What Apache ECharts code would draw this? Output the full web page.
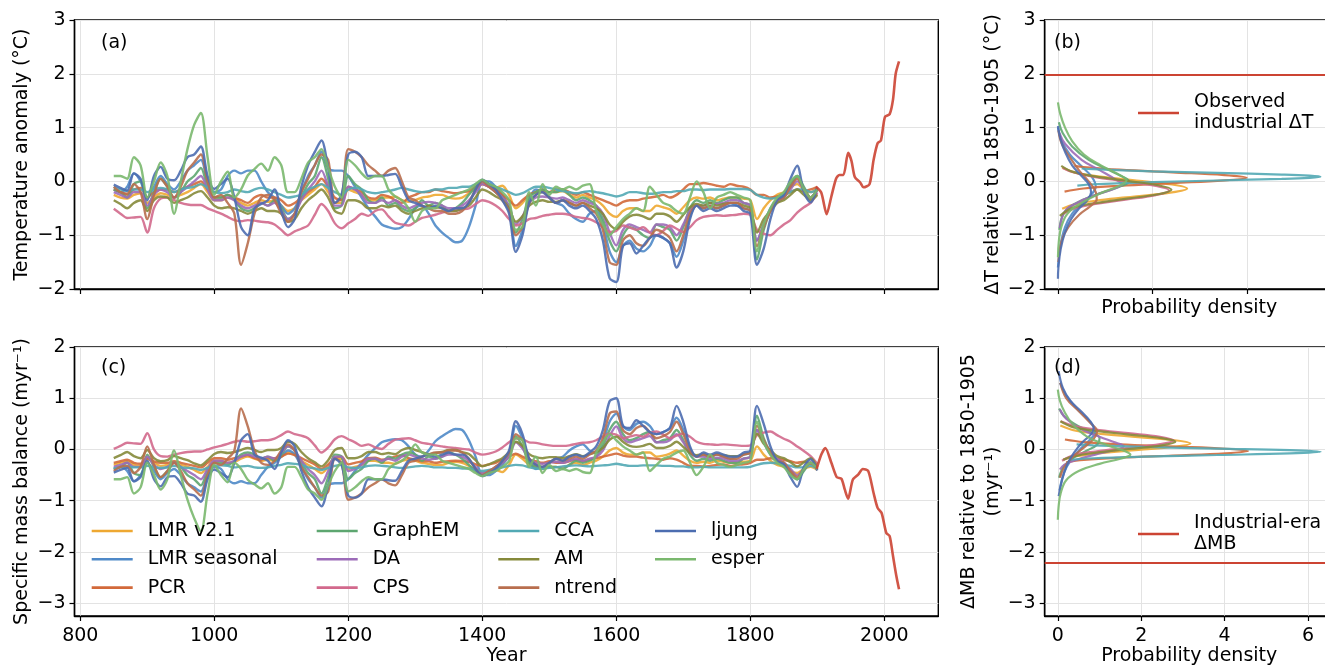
<!DOCTYPE html>
<html><head><meta charset="utf-8">
<script src="https://cdn.jsdelivr.net/npm/echarts@6/dist/echarts.min.js"></script>
<style>html,body{margin:0;padding:0;background:#fff}#c{width:1325px;height:666px}</style>
</head><body><div id="c"></div>
<script>
const YEARS = [850,860,870,880,890,900,910,920,930,940,
950,960,970,980,990,1000,1010,1020,1030,1040,
1050,1060,1070,1080,1090,1100,1110,1120,1130,1140,
1150,1160,1170,1180,1190,1200,1210,1220,1230,1240,
1250,1260,1270,1280,1290,1300,1310,1320,1330,1340,
1350,1360,1370,1380,1390,1400,1410,1420,1430,1440,
1450,1460,1470,1480,1490,1500,1510,1520,1530,1540,
1550,1560,1570,1580,1590,1600,1610,1620,1630,1640,
1650,1660,1670,1680,1690,1700,1710,1720,1730,1740,
1750,1760,1770,1780,1790,1800,1810,1820,1830,1840,
1850,1860,1870,1880,1890,1900];

const METHODS = ['LMR v2.1','LMR seasonal','PCR','GraphEM','DA','CPS','CCA','AM','ntrend','ljung','esper'];
const COLORS  = ['#EEA832','#4F89C8','#D2693A','#5DA670','#9C6BB8','#D2698C','#52A9B4','#85893A','#B86E4E','#4C6DB0','#7AB86E'];
const OBS_COLOR = '#CC4433';

// ---------- Panel (a): temperature anomaly ----------
const lmr21T = [-0.25,-0.30,-0.32,-0.25,-0.22,-0.40,-0.30,-0.22,-0.25,-0.30,
 -0.25,-0.20,-0.12,-0.05,-0.20,-0.35,-0.35,-0.30,-0.32,-0.40,
 -0.45,-0.40,-0.35,-0.38,-0.35,-0.45,-0.55,-0.50,-0.35,-0.25,
 -0.15,-0.05,-0.20,-0.40,-0.40,-0.15,-0.20,-0.25,-0.35,-0.35,
 -0.30,-0.30,-0.28,-0.35,-0.38,-0.35,-0.30,-0.28,-0.25,-0.25,
 -0.30,-0.32,-0.30,-0.22,-0.12,-0.05,-0.10,-0.12,-0.08,-0.25,
 -0.50,-0.40,-0.25,-0.20,-0.18,-0.20,-0.20,-0.18,-0.25,-0.30,
 -0.25,-0.30,-0.35,-0.45,-0.60,-0.66,-0.55,-0.50,-0.50,-0.55,
 -0.55,-0.45,-0.48,-0.52,-0.60,-0.48,-0.35,-0.30,-0.32,-0.30,
 -0.35,-0.32,-0.30,-0.30,-0.32,-0.35,-0.70,-0.50,-0.35,-0.25,
 -0.20,-0.10,-0.05,-0.15,-0.20,-0.12];
const seasT = [-0.15,-0.20,-0.10,0.15,0.00,-0.30,-0.10,0.10,-0.05,-0.15,
 0.00,0.20,0.30,0.40,0.00,-0.20,-0.15,0.10,0.20,0.15,
 0.20,0.20,0.00,-0.20,-0.30,-0.45,-0.60,-0.50,-0.20,0.10,
 0.30,0.55,0.25,0.20,0.20,0.10,-0.10,-0.30,-0.50,-0.65,
 -0.80,-0.85,-0.88,-0.85,-0.70,-0.50,-0.45,-0.60,-0.82,-0.95,
 -1.05,-1.13,-1.10,-0.85,-0.45,0.00,0.00,-0.10,-0.25,-0.50,
 -1.20,-0.90,-0.35,-0.15,-0.20,-0.30,-0.40,-0.45,-0.60,-0.70,
 -0.75,-0.60,-0.55,-0.80,-1.30,-1.50,-1.20,-1.10,-1.25,-1.30,
 -1.20,-1.00,-1.05,-1.15,-1.40,-1.10,-0.65,-0.45,-0.50,-0.45,
 -0.50,-0.45,-0.40,-0.45,-0.50,-0.55,-1.10,-0.80,-0.50,-0.35,
 -0.30,-0.10,0.10,-0.15,-0.30,-0.15];
const pcrT = [-0.15,-0.20,-0.25,-0.15,-0.12,-0.30,-0.20,-0.15,-0.15,-0.20,
 -0.15,-0.10,-0.05,0.00,-0.15,-0.30,-0.30,-0.25,-0.30,-0.35,
 -0.40,-0.30,-0.25,-0.30,-0.30,-0.35,-0.45,-0.40,-0.30,-0.20,
 -0.10,0.05,-0.10,-0.30,-0.35,-0.10,-0.15,-0.20,-0.30,-0.32,
 -0.25,-0.28,-0.35,-0.40,-0.30,-0.25,-0.20,-0.20,-0.15,-0.18,
 -0.20,-0.22,-0.20,-0.18,-0.10,-0.05,-0.10,-0.15,-0.25,-0.35,
 -0.45,-0.35,-0.25,-0.20,-0.15,-0.20,-0.15,-0.15,-0.20,-0.25,
 -0.20,-0.25,-0.30,-0.35,-0.40,-0.45,-0.38,-0.35,-0.35,-0.32,
 -0.30,-0.28,-0.25,-0.30,-0.25,-0.15,-0.05,-0.05,-0.03,-0.05,
 -0.08,-0.10,-0.05,-0.08,-0.10,-0.15,-0.25,-0.25,-0.30,-0.28,
 -0.25,-0.20,-0.15,-0.18,-0.15,-0.10];
const gemT = [-0.15,-0.20,-0.30,-0.05,0.00,-0.50,-0.20,0.05,-0.10,-0.30,
 -0.20,0.00,0.10,0.25,-0.10,-0.30,-0.30,-0.25,-0.35,-0.50,
 -0.55,-0.50,-0.40,-0.45,-0.35,-0.50,-0.70,-0.60,-0.30,-0.05,
 0.10,0.45,0.05,-0.50,-0.45,0.10,-0.05,-0.15,-0.35,-0.40,
 -0.30,-0.45,-0.40,-0.50,-0.55,-0.50,-0.35,-0.45,-0.40,-0.45,
 -0.55,-0.50,-0.40,-0.25,-0.10,0.00,-0.05,-0.20,-0.30,-0.50,
 -0.95,-0.70,-0.30,-0.20,-0.15,-0.20,-0.20,-0.15,-0.25,-0.35,
 -0.30,-0.35,-0.45,-0.70,-1.10,-1.30,-1.00,-0.85,-0.90,-1.00,
 -1.05,-0.80,-0.85,-0.90,-1.10,-0.85,-0.50,-0.35,-0.40,-0.35,
 -0.40,-0.35,-0.30,-0.30,-0.40,-0.45,-1.45,-0.90,-0.55,-0.35,
 -0.25,-0.05,0.10,-0.10,-0.30,-0.15];
const daT = [-0.20,-0.25,-0.30,-0.20,-0.20,-0.45,-0.25,-0.15,-0.20,-0.30,
 -0.20,-0.10,0.00,0.10,-0.15,-0.35,-0.35,-0.30,-0.35,-0.45,
 -0.50,-0.45,-0.40,-0.45,-0.40,-0.55,-0.70,-0.60,-0.35,-0.15,
 0.00,0.20,-0.10,-0.45,-0.45,-0.10,-0.15,-0.25,-0.40,-0.40,
 -0.35,-0.40,-0.35,-0.45,-0.50,-0.45,-0.40,-0.38,-0.40,-0.45,
 -0.50,-0.50,-0.45,-0.35,-0.20,-0.05,-0.10,-0.20,-0.30,-0.45,
 -0.80,-0.65,-0.40,-0.30,-0.28,-0.30,-0.32,-0.30,-0.35,-0.40,
 -0.35,-0.40,-0.45,-0.60,-0.95,-1.19,-0.90,-0.80,-0.85,-0.90,
 -0.95,-0.80,-0.80,-0.85,-1.00,-0.80,-0.55,-0.45,-0.45,-0.40,
 -0.42,-0.40,-0.35,-0.35,-0.40,-0.45,-1.10,-0.80,-0.55,-0.40,
 -0.30,-0.15,0.00,-0.15,-0.30,-0.20];
const cpsT = [-0.51,-0.60,-0.68,-0.67,-0.66,-0.95,-0.50,-0.32,-0.30,-0.35,
 -0.40,-0.43,-0.44,-0.44,-0.50,-0.55,-0.60,-0.66,-0.72,-0.74,
 -0.72,-0.73,-0.75,-0.76,-0.80,-0.90,-1.00,-0.93,-0.88,-0.82,
 -0.62,-0.42,-0.55,-0.78,-0.87,-0.78,-0.70,-0.60,-0.64,-0.55,
 -0.52,-0.65,-0.77,-0.80,-0.82,-0.75,-0.68,-0.65,-0.62,-0.58,
 -0.55,-0.54,-0.52,-0.50,-0.42,-0.35,-0.38,-0.45,-0.55,-0.70,
 -0.82,-0.78,-0.70,-0.68,-0.64,-0.62,-0.60,-0.60,-0.62,-0.66,
 -0.68,-0.70,-0.76,-0.85,-0.94,-0.92,-0.82,-0.86,-0.90,-0.85,
 -0.95,-1.00,-0.92,-0.82,-0.88,-0.94,-0.85,-0.72,-0.66,-0.64,
 -0.63,-0.64,-0.63,-0.62,-0.60,-0.62,-0.90,-0.97,-1.00,-0.90,
 -0.80,-0.72,-0.58,-0.48,-0.40,-0.22];
const ccaT = [-0.10,-0.15,-0.18,-0.15,-0.15,-0.20,-0.15,-0.12,-0.15,-0.20,
 -0.15,-0.12,-0.10,-0.05,-0.12,-0.20,-0.22,-0.20,-0.15,-0.18,
 -0.20,-0.15,-0.12,-0.15,-0.20,-0.25,-0.30,-0.28,-0.25,-0.15,
 -0.10,-0.05,-0.12,-0.20,-0.25,-0.15,-0.12,-0.15,-0.20,-0.22,
 -0.20,-0.18,-0.15,-0.12,-0.15,-0.18,-0.20,-0.18,-0.15,-0.15,
 -0.12,-0.12,-0.10,-0.10,-0.05,0.00,-0.05,-0.10,-0.15,-0.20,
 -0.25,-0.22,-0.15,-0.10,-0.10,-0.12,-0.15,-0.18,-0.20,-0.22,
 -0.20,-0.18,-0.20,-0.22,-0.25,-0.28,-0.25,-0.20,-0.20,-0.22,
 -0.23,-0.22,-0.20,-0.20,-0.18,-0.18,-0.15,-0.15,-0.16,-0.15,
 -0.15,-0.15,-0.14,-0.14,-0.14,-0.16,-0.25,-0.30,-0.32,-0.30,
 -0.25,-0.20,-0.15,-0.15,-0.20,-0.15];
const amT = [-0.35,-0.42,-0.50,-0.40,-0.35,-0.55,-0.35,-0.28,-0.30,-0.40,
 -0.35,-0.30,-0.22,-0.18,-0.30,-0.45,-0.50,-0.48,-0.50,-0.55,
 -0.60,-0.55,-0.50,-0.55,-0.55,-0.60,-0.75,-0.70,-0.50,-0.35,
 -0.25,-0.15,-0.30,-0.55,-0.60,-0.35,-0.35,-0.40,-0.50,-0.50,
 -0.45,-0.48,-0.45,-0.55,-0.60,-0.55,-0.50,-0.45,-0.48,-0.50,
 -0.55,-0.55,-0.50,-0.45,-0.30,-0.15,-0.20,-0.28,-0.35,-0.50,
 -0.75,-0.65,-0.45,-0.38,-0.35,-0.38,-0.38,-0.35,-0.40,-0.45,
 -0.40,-0.45,-0.50,-0.60,-0.80,-0.88,-0.75,-0.65,-0.62,-0.65,
 -0.70,-0.60,-0.60,-0.65,-0.75,-0.62,-0.48,-0.42,-0.45,-0.40,
 -0.45,-0.42,-0.40,-0.40,-0.45,-0.50,-0.95,-0.70,-0.55,-0.40,
 -0.35,-0.25,-0.15,-0.25,-0.35,-0.25];
const ntT = [-0.10,-0.20,-0.23,-0.05,-0.20,-0.70,-0.25,0.05,-0.10,-0.30,
 -0.10,0.20,0.35,0.50,0.00,-0.30,-0.25,-0.40,-0.60,-1.55,
 -1.15,-0.60,-0.30,-0.25,-0.35,-0.60,-0.75,-0.60,-0.20,0.05,
 0.30,0.50,0.40,-0.40,-0.30,0.60,0.55,0.45,0.30,0.20,
 0.10,0.20,0.25,0.00,-0.30,-0.35,-0.45,-0.50,-0.55,-0.55,
 -0.60,-0.60,-0.55,-0.40,-0.15,0.00,-0.10,-0.20,-0.35,-0.55,
 -1.00,-0.85,-0.40,-0.25,-0.20,-0.30,-0.40,-0.35,-0.40,-0.45,
 -0.40,-0.50,-0.60,-0.90,-1.50,-1.55,-1.10,-1.00,-1.15,-1.20,
 -1.05,-0.90,-0.95,-1.05,-1.30,-1.00,-0.60,-0.45,-0.50,-0.45,
 -0.50,-0.45,-0.40,-0.40,-0.50,-0.55,-1.20,-0.85,-0.55,-0.35,
 -0.30,-0.10,0.05,-0.15,-0.30,-0.15];
const ljT = [-0.06,-0.12,-0.17,0.15,0.05,-0.35,0.10,0.27,0.05,0.02,
 0.20,0.45,0.50,0.65,0.10,-0.14,-0.05,0.05,-0.30,-0.85,
 -1.00,-0.50,-0.42,-0.35,-0.15,-0.55,-0.85,-0.70,-0.10,0.30,
 0.55,0.76,0.25,-0.40,-0.25,0.50,0.55,0.45,0.10,0.10,
 0.10,0.12,0.14,-0.10,-0.35,-0.40,-0.45,-0.50,-0.45,-0.50,
 -0.55,-0.50,-0.50,-0.40,-0.15,0.03,-0.05,-0.15,-0.35,-0.60,
 -1.31,-1.00,-0.40,-0.25,-0.20,-0.30,-0.40,-0.35,-0.45,-0.50,
 -0.45,-0.55,-0.70,-1.10,-1.80,-1.87,-1.20,-1.15,-1.34,-1.20,
 -1.05,-1.00,-1.05,-1.15,-1.60,-1.30,-0.70,-0.45,-0.55,-0.50,
 -0.55,-0.50,-0.45,-0.45,-0.55,-0.60,-1.55,-1.25,-0.70,-0.35,
 -0.26,0.05,0.29,-0.20,-0.39,-0.11];
const espT = [0.10,0.10,0.05,0.45,0.30,-0.30,0.00,0.35,0.10,-0.60,
 0.00,0.60,1.05,1.27,0.45,-0.25,0.00,0.18,-0.30,-0.15,
 0.11,0.23,0.33,0.20,0.45,0.30,-0.20,-0.20,0.05,0.35,
 0.45,0.60,0.25,-0.10,-0.30,0.40,0.30,0.15,0.05,0.10,
 0.10,-0.15,-0.28,-0.35,-0.50,-0.75,-0.55,-0.50,-0.50,-0.35,
 -0.30,-0.25,-0.20,-0.15,-0.05,0.03,-0.05,-0.10,-0.20,-0.35,
 -0.90,-0.85,-0.20,-0.45,-0.05,-0.25,-0.10,-0.15,-0.10,-0.15,
 -0.08,-0.05,-0.55,-0.80,-1.00,-0.85,-0.70,-0.60,-0.50,-0.55,
 -0.10,-0.25,-0.40,-0.45,-0.55,-0.60,-0.30,0.00,-0.20,-0.50,
 -0.30,-0.25,-0.20,-0.25,-0.30,-0.35,-1.30,-0.80,-0.50,-0.30,
 -0.20,0.00,0.10,-0.15,-0.30,-0.15];

// ---------- Panel (c): specific mass balance ----------
const lmr21MB = [-0.30,-0.26,-0.24,-0.30,-0.32,-0.18,-0.26,-0.32,-0.30,-0.26,
 -0.30,-0.34,-0.40,-0.46,-0.34,-0.22,-0.22,-0.26,-0.24,-0.18,
 -0.14,-0.18,-0.22,-0.20,-0.22,-0.14,-0.06,-0.10,-0.22,-0.30,
 -0.38,-0.46,-0.34,-0.18,-0.18,-0.38,-0.34,-0.30,-0.22,-0.22,
 -0.26,-0.26,-0.28,-0.22,-0.20,-0.22,-0.26,-0.28,-0.30,-0.30,
 -0.26,-0.24,-0.26,-0.32,-0.40,-0.46,-0.42,-0.40,-0.44,-0.30,
 -0.10,-0.18,-0.30,-0.34,-0.36,-0.34,-0.34,-0.36,-0.30,-0.26,
 -0.30,-0.26,-0.22,-0.14,-0.02,0.03,-0.06,-0.10,-0.10,-0.06,
 -0.06,-0.14,-0.12,-0.08,-0.02,-0.12,-0.22,-0.26,-0.24,-0.26,
 -0.22,-0.24,-0.26,-0.26,-0.24,-0.22,0.06,-0.10,-0.22,-0.30,
 -0.34,-0.42,-0.46,-0.38,-0.34,-0.40];
const seasMB = [-0.38,-0.34,-0.42,-0.62,-0.50,-0.26,-0.42,-0.58,-0.46,-0.38,
 -0.50,-0.66,-0.74,-0.82,-0.50,-0.34,-0.38,-0.58,-0.66,-0.62,
 -0.66,-0.66,-0.50,-0.34,-0.26,-0.14,-0.02,-0.10,-0.34,-0.58,
 -0.74,-0.94,-0.70,-0.66,-0.66,-0.58,-0.42,-0.26,-0.10,0.02,
 0.14,0.18,0.20,0.18,0.06,-0.10,-0.14,-0.02,0.16,0.26,
 0.34,0.40,0.38,0.18,-0.14,-0.50,-0.50,-0.42,-0.30,-0.10,
 0.46,0.22,-0.22,-0.38,-0.34,-0.26,-0.18,-0.14,-0.02,0.06,
 0.10,-0.02,-0.06,0.14,0.54,0.70,0.46,0.38,0.50,0.54,
 0.46,0.30,0.34,0.42,0.62,0.38,0.02,-0.14,-0.10,-0.14,
 -0.10,-0.14,-0.18,-0.14,-0.10,-0.06,0.38,0.14,-0.10,-0.22,
 -0.26,-0.42,-0.58,-0.38,-0.26,-0.38];
const pcrMB = [-0.26,-0.23,-0.20,-0.26,-0.28,-0.17,-0.23,-0.26,-0.26,-0.23,
 -0.26,-0.29,-0.32,-0.35,-0.26,-0.17,-0.17,-0.20,-0.17,-0.14,
 -0.11,-0.17,-0.20,-0.17,-0.17,-0.14,-0.08,-0.11,-0.17,-0.23,
 -0.29,-0.38,-0.29,-0.17,-0.14,-0.29,-0.26,-0.23,-0.17,-0.16,
 -0.20,-0.18,-0.14,-0.11,-0.17,-0.20,-0.23,-0.23,-0.26,-0.24,
 -0.23,-0.22,-0.23,-0.24,-0.29,-0.32,-0.29,-0.26,-0.20,-0.14,
 -0.08,-0.14,-0.20,-0.23,-0.26,-0.23,-0.26,-0.26,-0.23,-0.20,
 -0.23,-0.20,-0.17,-0.14,-0.11,-0.08,-0.12,-0.14,-0.14,-0.16,
 -0.17,-0.18,-0.20,-0.17,-0.20,-0.26,-0.32,-0.32,-0.33,-0.32,
 -0.30,-0.29,-0.32,-0.30,-0.29,-0.26,-0.20,-0.20,-0.17,-0.18,
 -0.20,-0.23,-0.26,-0.24,-0.28,-0.35];
const gemMB = [-0.38,-0.34,-0.26,-0.46,-0.50,-0.10,-0.34,-0.54,-0.42,-0.26,
 -0.34,-0.50,-0.58,-0.70,-0.42,-0.26,-0.26,-0.30,-0.22,-0.10,
 -0.06,-0.10,-0.18,-0.14,-0.22,-0.10,0.06,-0.02,-0.26,-0.46,
 -0.58,-0.86,-0.54,-0.10,-0.14,-0.58,-0.46,-0.38,-0.22,-0.18,
 -0.26,-0.14,-0.18,-0.10,-0.06,-0.10,-0.22,-0.14,-0.18,-0.14,
 -0.06,-0.10,-0.18,-0.30,-0.42,-0.50,-0.46,-0.34,-0.26,-0.10,
 0.26,0.06,-0.26,-0.34,-0.38,-0.34,-0.34,-0.38,-0.30,-0.22,
 -0.26,-0.22,-0.14,0.06,0.38,0.54,0.30,0.18,0.22,0.30,
 0.34,0.14,0.18,0.22,0.38,0.18,-0.10,-0.22,-0.18,-0.22,
 -0.18,-0.22,-0.26,-0.26,-0.18,-0.14,0.66,0.22,-0.06,-0.22,
 -0.30,-0.46,-0.58,-0.42,-0.26,-0.38];
const daMB = [-0.34,-0.30,-0.26,-0.34,-0.34,-0.14,-0.30,-0.38,-0.34,-0.26,
 -0.34,-0.42,-0.50,-0.58,-0.38,-0.22,-0.22,-0.26,-0.22,-0.14,
 -0.10,-0.14,-0.18,-0.14,-0.18,-0.06,0.06,-0.02,-0.22,-0.38,
 -0.50,-0.66,-0.42,-0.14,-0.14,-0.42,-0.38,-0.30,-0.18,-0.18,
 -0.22,-0.18,-0.22,-0.14,-0.10,-0.14,-0.18,-0.20,-0.18,-0.14,
 -0.10,-0.10,-0.14,-0.22,-0.34,-0.46,-0.42,-0.34,-0.26,-0.14,
 0.14,0.02,-0.18,-0.26,-0.28,-0.26,-0.24,-0.26,-0.22,-0.18,
 -0.22,-0.18,-0.14,-0.02,0.26,0.45,0.22,0.14,0.18,0.22,
 0.26,0.14,0.14,0.18,0.30,0.14,-0.06,-0.14,-0.14,-0.18,
 -0.16,-0.18,-0.22,-0.22,-0.18,-0.14,0.38,0.14,-0.06,-0.18,
 -0.26,-0.38,-0.50,-0.38,-0.26,-0.34];
const cpsMB = [0.01,0.07,0.13,0.12,0.11,0.32,0.00,-0.13,-0.14,-0.10,
 -0.07,-0.05,-0.04,-0.04,0.00,0.04,0.07,0.11,0.15,0.17,
 0.15,0.16,0.18,0.18,0.21,0.28,0.35,0.30,0.27,0.22,
 0.08,-0.06,0.04,0.20,0.26,0.20,0.14,0.07,0.10,0.04,
 0.01,0.11,0.19,0.21,0.22,0.18,0.13,0.11,0.08,0.06,
 0.04,0.03,0.01,0.00,-0.06,-0.10,-0.08,-0.04,0.04,0.14,
 0.22,0.20,0.14,0.13,0.10,0.08,0.07,0.07,0.08,0.11,
 0.13,0.14,0.18,0.25,0.31,0.29,0.22,0.25,0.28,0.25,
 0.32,0.35,0.29,0.22,0.27,0.31,0.25,0.15,0.11,0.10,
 0.09,0.10,0.09,0.08,0.07,0.08,0.28,0.33,0.35,0.28,
 0.21,0.15,0.06,-0.03,-0.13,-0.28];
const ccaMB = [-0.37,-0.35,-0.33,-0.35,-0.35,-0.32,-0.35,-0.36,-0.35,-0.32,
 -0.35,-0.36,-0.37,-0.40,-0.36,-0.32,-0.31,-0.32,-0.35,-0.33,
 -0.32,-0.35,-0.36,-0.35,-0.32,-0.30,-0.27,-0.28,-0.30,-0.35,
 -0.37,-0.40,-0.36,-0.32,-0.30,-0.35,-0.36,-0.35,-0.32,-0.31,
 -0.32,-0.33,-0.35,-0.36,-0.35,-0.33,-0.32,-0.33,-0.35,-0.35,
 -0.36,-0.36,-0.37,-0.37,-0.40,-0.42,-0.40,-0.37,-0.35,-0.32,
 -0.30,-0.31,-0.35,-0.37,-0.37,-0.36,-0.35,-0.33,-0.32,-0.31,
 -0.32,-0.33,-0.32,-0.31,-0.30,-0.28,-0.30,-0.32,-0.32,-0.31,
 -0.31,-0.31,-0.32,-0.32,-0.33,-0.33,-0.35,-0.35,-0.34,-0.35,
 -0.35,-0.35,-0.35,-0.35,-0.35,-0.34,-0.30,-0.27,-0.26,-0.27,
 -0.30,-0.32,-0.35,-0.35,-0.32,-0.38];
const amMB = [-0.17,-0.11,-0.05,-0.13,-0.17,-0.01,-0.17,-0.23,-0.21,-0.13,
 -0.17,-0.21,-0.27,-0.31,-0.21,-0.09,-0.05,-0.07,-0.05,-0.01,
 0.03,-0.01,-0.05,-0.01,-0.01,0.03,0.15,0.11,-0.05,-0.17,
 -0.25,-0.33,-0.21,-0.01,0.03,-0.17,-0.17,-0.13,-0.05,-0.05,
 -0.09,-0.07,-0.09,-0.01,0.03,-0.01,-0.05,-0.09,-0.07,-0.05,
 -0.01,-0.01,-0.05,-0.09,-0.21,-0.33,-0.29,-0.23,-0.17,-0.05,
 0.15,0.07,-0.09,-0.15,-0.17,-0.15,-0.15,-0.17,-0.13,-0.09,
 -0.13,-0.09,-0.05,0.03,0.19,0.25,0.15,0.07,0.05,0.07,
 0.11,0.03,0.03,0.07,0.15,0.05,-0.07,-0.11,-0.09,-0.13,
 -0.09,-0.11,-0.13,-0.13,-0.09,-0.05,0.31,0.11,-0.01,-0.13,
 -0.17,-0.25,-0.33,-0.25,-0.17,-0.35];
const ntMB = [-0.42,-0.34,-0.32,-0.46,-0.34,0.06,-0.30,-0.54,-0.42,-0.26,
 -0.42,-0.66,-0.78,-0.90,-0.50,-0.26,-0.30,-0.18,-0.02,0.80,
 0.45,-0.02,-0.26,-0.30,-0.22,-0.02,0.10,-0.02,-0.34,-0.54,
 -0.74,-0.90,-0.82,-0.18,-0.26,-0.98,-0.94,-0.86,-0.74,-0.66,
 -0.58,-0.66,-0.70,-0.50,-0.26,-0.22,-0.14,-0.10,-0.06,-0.06,
 -0.02,-0.02,-0.06,-0.18,-0.38,-0.50,-0.42,-0.34,-0.22,-0.06,
 0.30,0.18,-0.18,-0.30,-0.34,-0.26,-0.18,-0.22,-0.18,-0.14,
 -0.18,-0.10,-0.02,0.22,0.70,0.74,0.38,0.30,0.42,0.46,
 0.34,0.22,0.26,0.34,0.54,0.30,-0.02,-0.14,-0.10,-0.14,
 -0.10,-0.14,-0.18,-0.18,-0.10,-0.06,0.46,0.18,-0.06,-0.22,
 -0.26,-0.42,-0.54,-0.38,-0.26,-0.38];
const ljMB = [-0.45,-0.40,-0.36,-0.62,-0.54,-0.22,-0.58,-0.72,-0.54,-0.52,
 -0.66,-0.86,-0.90,-1.02,-0.58,-0.39,-0.46,-0.54,-0.26,0.18,
 0.30,-0.10,-0.16,-0.22,-0.38,-0.06,0.18,0.06,-0.42,-0.74,
 -0.94,-1.11,-0.70,-0.18,-0.30,-0.90,-0.94,-0.86,-0.58,-0.58,
 -0.58,-0.60,-0.61,-0.42,-0.22,-0.18,-0.14,-0.10,-0.14,-0.10,
 -0.06,-0.10,-0.10,-0.18,-0.38,-0.52,-0.46,-0.38,-0.22,-0.02,
 0.55,0.30,-0.18,-0.30,-0.34,-0.26,-0.18,-0.22,-0.14,-0.10,
 -0.14,-0.06,0.06,0.38,0.94,1.00,0.46,0.42,0.57,0.46,
 0.34,0.30,0.34,0.42,0.85,0.54,0.06,-0.14,-0.06,-0.10,
 -0.06,-0.10,-0.14,-0.14,-0.06,-0.02,0.85,0.50,0.06,-0.22,
 -0.29,-0.54,-0.73,-0.34,-0.19,-0.41];
const espMB = [-0.58,-0.58,-0.54,-0.86,-0.74,-0.26,-0.50,-0.78,-0.58,-0.02,
 -0.50,-0.98,-1.34,-1.60,-0.86,-0.30,-0.50,-0.64,-0.26,-0.38,
 -0.59,-0.68,-0.76,-0.66,-0.86,-0.74,-0.34,-0.34,-0.54,-0.78,
 -0.86,-0.98,-0.70,-0.42,-0.26,-0.82,-0.74,-0.62,-0.54,-0.58,
 -0.58,-0.38,-0.28,-0.22,-0.10,0.10,-0.06,-0.10,-0.10,-0.22,
 -0.26,-0.30,-0.34,-0.38,-0.46,-0.52,-0.46,-0.42,-0.34,-0.22,
 0.22,0.18,-0.34,-0.14,-0.46,-0.30,-0.42,-0.38,-0.42,-0.38,
 -0.44,-0.46,-0.06,0.14,0.30,0.18,0.06,-0.02,-0.10,-0.06,
 -0.42,-0.30,-0.18,-0.14,-0.06,-0.02,-0.26,-0.50,-0.34,-0.10,
 -0.26,-0.30,-0.34,-0.30,-0.26,-0.22,0.54,0.14,-0.10,-0.26,
 -0.34,-0.50,-0.58,-0.38,-0.26,-0.38];

// ---------- Observed / industrial-era series ----------
const OBS_T_YEARS = [1898,1906,1914,1921,1928,1933,1939,1946,1951,1956,1964,1969,1978,1984,1990,1995,2001,2008,2013,2017,2022];
const OBS_T = [-0.10,-0.21,-0.61,-0.28,0.05,0.12,0.12,0.53,0.38,0.08,-0.02,-0.11,-0.05,0.40,0.71,0.76,1.20,1.25,1.52,2.0,2.23];
const OBS_MB_YEARS = [1899,1906,1912,1921,1929,1936,1941,1946,1953,1961,1968,1976,1984,1990,1996,2003,2008,2013,2018,2022];
const OBS_MB = [-0.38,-0.10,0.03,-0.26,-0.54,-0.57,-0.78,-0.96,-0.59,-0.49,-0.38,-0.42,-0.85,-1.14,-1.24,-1.63,-1.69,-2.08,-2.47,-2.73];
const OBS_DT = 1.98;
const IND_DMB = -2.21;

// ---------- Panel (b): density of ΔT  [density, ΔT] ----------
const dB_lmr21 = [[0.09,0.26],[0.37,0.162],[0.89,0.089],[1.66,0.016],[2.41,-0.057],[2.73,-0.13],[2.41,-0.203],[1.66,-0.276],[0.89,-0.349],[0.37,-0.422],[0.09,-0.51]];
const dB_seas = [[0.0,1.0],[0.08,0.75],[0.25,0.5],[0.5,0.28],[0.72,0.08],[0.8,-0.1],[0.7,-0.25],[0.5,-0.42],[0.3,-0.6],[0.15,-0.85],[0.05,-1.2],[0.0,-1.6]];
const dB_pcr = [[0.35,0.29],[0.54,0.268],[1.3,0.218],[2.42,0.168],[3.52,0.118],[3.99,0.068],[3.52,0.018],[2.42,-0.032],[1.3,-0.082],[0.54,-0.132],[0.14,-0.19]];
const dB_gem = [[0.02,1.1],[0.1,0.9],[0.3,0.65],[0.65,0.4],[1.1,0.2],[1.45,0.05],[1.5,0.0],[1.3,-0.1],[0.8,-0.25],[0.35,-0.42],[0.12,-0.6],[0.03,-0.9]];
const dB_da = [[0.03,0.9],[0.15,0.7],[0.5,0.4],[0.9,0.2],[1.25,0.02],[1.36,-0.05],[1.2,-0.13],[0.8,-0.25],[0.4,-0.4],[0.15,-0.55],[0.04,-0.87]];
const dB_cps = [[0.1,0.25],[0.32,0.17],[0.76,0.085],[1.43,0.0],[2.07,-0.085],[2.35,-0.17],[2.07,-0.255],[1.43,-0.34],[0.76,-0.425],[0.32,-0.51],[0.12,-0.6]];
const dB_cca = [[0.5,0.24],[0.75,0.227],[2.0,0.187],[3.37,0.157],[4.73,0.127],[5.32,0.107],[5.55,0.087],[5.32,0.067],[4.73,0.047],[3.37,0.017],[2.0,-0.013],[0.75,-0.053],[0.41,-0.08]];
const dB_am = [[0.07,0.29],[0.32,0.177],[0.78,0.094],[1.46,0.011],[2.12,-0.072],[2.4,-0.155],[2.12,-0.238],[1.46,-0.321],[0.78,-0.404],[0.32,-0.487],[0.04,-0.64]];
const dB_nt = [[0.01,0.95],[0.08,0.7],[0.25,0.45],[0.45,0.2],[0.65,0.0],[0.8,-0.2],[0.82,-0.33],[0.7,-0.45],[0.45,-0.62],[0.22,-0.85],[0.08,-1.1],[0.01,-1.5]];
const dB_lj = [[0.0,1.03],[0.05,0.8],[0.15,0.55],[0.3,0.3],[0.5,0.1],[0.65,-0.05],[0.7,-0.2],[0.62,-0.35],[0.45,-0.5],[0.28,-0.7],[0.15,-0.95],[0.06,-1.25],[0.01,-1.6],[0.0,-1.81]];
const dB_esp = [[0.0,1.47],[0.05,1.25],[0.15,1.0],[0.3,0.75],[0.55,0.5],[0.9,0.3],[1.3,0.12],[1.45,0.02],[1.3,-0.08],[0.9,-0.22],[0.5,-0.4],[0.2,-0.6],[0.07,-0.85],[0.02,-1.1],[0.0,-1.41]];

// ---------- Panel (d): density of ΔMB  [density, ΔMB] ----------
const dD_lmr21 = [[0.06,0.47],[0.43,0.367],[1.03,0.305],[1.93,0.242],[2.8,0.18],[3.18,0.117],[2.8,0.055],[1.93,-0.008],[1.03,-0.07],[0.43,-0.133],[0.13,-0.2]];
const dD_seas = [[0.05,1.3],[0.2,1.05],[0.45,0.8],[0.7,0.6],[0.85,0.45],[0.9,0.35],[0.78,0.2],[0.55,0.02],[0.32,-0.2],[0.15,-0.45],[0.04,-0.8]];
const dD_pcr = [[0.17,0.195],[0.62,0.145],[1.48,0.101],[2.77,0.058],[4.02,0.014],[4.56,-0.03],[4.02,-0.074],[2.77,-0.118],[1.48,-0.161],[0.62,-0.205],[0.2,-0.25]];
const dD_gem = [[0.03,0.8],[0.15,0.65],[0.4,0.5],[0.75,0.35],[1.0,0.22],[0.95,0.1],[0.7,-0.02],[0.4,-0.15],[0.15,-0.32],[0.03,-0.55]];
const dD_da = [[0.05,0.78],[0.2,0.6],[0.55,0.4],[1.0,0.25],[1.4,0.13],[1.58,0.065],[1.4,0.0],[0.9,-0.1],[0.45,-0.2],[0.15,-0.3],[0.05,-0.39]];
const dD_cps = [[0.07,0.55],[0.38,0.462],[0.9,0.39],[1.69,0.319],[2.45,0.248],[2.78,0.176],[2.45,0.105],[1.69,0.033],[0.9,-0.039],[0.38,-0.11],[0.1,-0.22]];
const dD_cca = [[0.45,0.1],[0.85,0.081],[2.05,0.05],[3.82,0.018],[5.56,-0.013],[6.3,-0.045],[5.56,-0.077],[3.82,-0.108],[2.05,-0.14],[0.85,-0.171],[0.3,-0.2]];
const dD_am = [[0.06,0.55],[0.38,0.432],[0.92,0.362],[1.71,0.291],[2.49,0.22],[2.82,0.15],[2.49,0.08],[1.71,0.009],[0.92,-0.062],[0.38,-0.132],[0.13,-0.2]];
const dD_nt = [[0.06,1.3],[0.2,1.0],[0.5,0.75],[0.8,0.5],[0.94,0.36],[0.85,0.2],[0.6,0.02],[0.35,-0.15],[0.15,-0.35],[0.05,-0.55]];
const dD_lj = [[0.02,1.53],[0.12,1.2],[0.3,0.95],[0.55,0.75],[0.78,0.55],[0.86,0.42],[0.8,0.3],[0.6,0.15],[0.4,-0.05],[0.22,-0.3],[0.1,-0.6],[0.02,-0.91]];
const dD_esp = [[0.0,1.17],[0.05,0.95],[0.15,0.75],[0.35,0.5],[0.7,0.25],[1.2,0.08],[1.6,-0.03],[1.74,-0.1],[1.5,-0.18],[1.0,-0.28],[0.5,-0.42],[0.2,-0.6],[0.07,-0.85],[0.02,-1.1],[0.0,-1.37]];

// tick values
const X_YEAR_TICKS = [800,1000,1200,1400,1600,1800,2000];
const Y_A_TICKS = [-2,-1,0,1,2,3];
const Y_C_TICKS = [-3,-2,-1,0,1,2];
const X_B_TICKS = [0,2,4];
const X_D_TICKS = [0,2,4,6];

const T_SERIES = [lmr21T, seasT, pcrT, gemT, daT, cpsT, ccaT, amT, ntT, ljT, espT];
const MB_SERIES = [lmr21MB, seasMB, pcrMB, gemMB, daMB, cpsMB, ccaMB, amMB, ntMB, ljMB, espMB];
const DB_SERIES = [dB_lmr21, dB_seas, dB_pcr, dB_gem, dB_da, dB_cps, dB_cca, dB_am, dB_nt, dB_lj, dB_esp];
const DD_SERIES = [dD_lmr21, dD_seas, dD_pcr, dD_gem, dD_da, dD_cps, dD_cca, dD_am, dD_nt, dD_lj, dD_esp];

const FONT = 'DejaVu Sans';
const FS = 19;
const minus = v => (v < 0 ? '\u2212' + Math.abs(v) : String(v));
const GRID_LINE = {show: true, lineStyle: {color: '#e3e3e3', width: 1}};
const TICK = (vals) => ({show: true, inside: false, length: 5, customValues: vals, lineStyle: {color: '#000', width: 1.2}});
const LABEL = (vals, show) => ({show: show, customValues: vals, fontSize: FS, fontFamily: FONT, color: '#000', margin: 9, formatter: minus});
const AXLINE = {show: true, onZero: false, lineStyle: {color: '#000', width: 1.4}};
const NAME_STYLE = {fontSize: FS, fontFamily: FONT, color: '#000', lineHeight: 24};

const grids = [
  {left: 74.5, top: 20, width: 863.8, height: 269},
  {left: 1044.7, top: 20, width: 289, height: 269},
  {left: 74.5, top: 347, width: 863.8, height: 269},
  {left: 1044.7, top: 347, width: 289, height: 269}
].map(g => Object.assign(g, {show: true, borderColor: '#000', borderWidth: 1.4, backgroundColor: 'transparent',
  containLabel: false, outerBoundsMode: 'none'}));

const xAxes = [
  {type: 'value', gridIndex: 0, min: 791.4, max: 2080.6, axisLine: AXLINE, axisTick: TICK(X_YEAR_TICKS), axisLabel: LABEL(X_YEAR_TICKS, false), splitLine: GRID_LINE},
  {type: 'value', gridIndex: 1, min: -0.28, max: 5.83, axisLine: AXLINE, axisTick: TICK(X_B_TICKS), axisLabel: LABEL(X_B_TICKS, false), splitLine: GRID_LINE,
   name: 'Probability density', nameLocation: 'middle', nameGap: 7, nameMoveOverlap: false, nameTextStyle: NAME_STYLE},
  {type: 'value', gridIndex: 2, min: 791.4, max: 2080.6, axisLine: AXLINE, axisTick: TICK(X_YEAR_TICKS), axisLabel: Object.assign(LABEL(X_YEAR_TICKS, true), {margin: 11}), splitLine: GRID_LINE,
   name: 'Year', nameLocation: 'middle', nameGap: 28, nameMoveOverlap: false, nameTextStyle: NAME_STYLE},
  {type: 'value', gridIndex: 3, min: -0.315, max: 6.615, axisLine: AXLINE, axisTick: TICK(X_D_TICKS), axisLabel: Object.assign(LABEL(X_D_TICKS, true), {margin: 11}), splitLine: GRID_LINE,
   name: 'Probability density', nameLocation: 'middle', nameGap: 28, nameMoveOverlap: false, nameTextStyle: NAME_STYLE}
];
const yAxes = [
  {type: 'value', gridIndex: 0, min: -2, max: 3, axisLine: AXLINE, axisTick: TICK(Y_A_TICKS), axisLabel: LABEL(Y_A_TICKS, true), splitLine: GRID_LINE,
   name: 'Temperature anomaly (°C)', nameLocation: 'middle', nameGap: 40, nameMoveOverlap: false, nameTextStyle: NAME_STYLE},
  {type: 'value', gridIndex: 1, min: -2, max: 3, axisLine: AXLINE, axisTick: TICK(Y_A_TICKS), axisLabel: LABEL(Y_A_TICKS, true), splitLine: GRID_LINE,
   name: 'ΔT relative to 1850-1905 (°C)', nameLocation: 'middle', nameGap: 40, nameMoveOverlap: false, nameTextStyle: NAME_STYLE},
  {type: 'value', gridIndex: 2, min: -3.25, max: 2, axisLine: AXLINE, axisTick: TICK(Y_C_TICKS), axisLabel: LABEL(Y_C_TICKS, true), splitLine: GRID_LINE,
   name: 'Specific mass balance (myr⁻¹)', nameLocation: 'middle', nameGap: 40, nameMoveOverlap: false, nameTextStyle: NAME_STYLE},
  {type: 'value', gridIndex: 3, min: -3.25, max: 2, axisLine: AXLINE, axisTick: TICK(Y_C_TICKS), axisLabel: LABEL(Y_C_TICKS, true), splitLine: GRID_LINE,
   name: 'ΔMB relative to 1850-1905\n(myr⁻¹)', nameLocation: 'middle', nameGap: 40, nameMoveOverlap: false, nameTextStyle: NAME_STYLE}
];

const series = [];
function lineSeries(name, color, axis, data, smooth, width) {
  return {type: 'line', name, xAxisIndex: axis, yAxisIndex: axis, data, showSymbol: false, symbol: 'none',
    smooth, silent: true, clip: true, lineStyle: {color, width, opacity: 0.9}, itemStyle: {color}, emphasis: {disabled: true}};
}
METHODS.forEach((m, i) => {
  series.push(lineSeries(m, COLORS[i], 0, YEARS.map((y, k) => [y, T_SERIES[i][k]]), 0.3, 2.4));
});
series.push(lineSeries('obsT', OBS_COLOR, 0, OBS_T_YEARS.map((y, k) => [y, OBS_T[k]]), 0.25, 2.6));
METHODS.forEach((m, i) => {
  series.push(lineSeries(m, COLORS[i], 2, YEARS.map((y, k) => [y, MB_SERIES[i][k]]), 0.3, 2.4));
});
series.push(lineSeries('obsMB', OBS_COLOR, 2, OBS_MB_YEARS.map((y, k) => [y, OBS_MB[k]]), 0.25, 2.6));
METHODS.forEach((m, i) => {
  series.push(lineSeries(m, COLORS[i], 1, DB_SERIES[i], 0.4, 2.2));
  series.push(lineSeries(m, COLORS[i], 3, DD_SERIES[i], 0.4, 2.2));
});
function refLine(name, axis, val) {
  return {type: 'line', name, xAxisIndex: axis, yAxisIndex: axis, data: [], silent: true,
    lineStyle: {color: OBS_COLOR, width: 2.2}, itemStyle: {color: OBS_COLOR},
    markLine: {silent: true, symbol: ['none', 'none'], label: {show: false}, animation: false,
      lineStyle: {color: OBS_COLOR, width: 2.2, type: 'solid', opacity: 1}, emphasis: {disabled: true},
      data: [{yAxis: val}]}};
}
series.push(refLine('Observed industrial ΔT', 1, OBS_DT));
series.push(refLine('Industrial-era ΔMB', 3, IND_DMB));

const legendBase = {orient: 'vertical', icon: 'rect', itemWidth: 41, itemHeight: 2.6, itemGap: 8.3, padding: 0,
  selectedMode: false, itemStyle: {borderWidth: 0},
  textStyle: {fontSize: FS, fontFamily: FONT, color: '#000', lineHeight: 20, padding: [0, 0, 0, 10]}};
const legends = [
  Object.assign({}, legendBase, {left: 91.7, top: 521, data: ['LMR v2.1', 'LMR seasonal', 'PCR']}),
  Object.assign({}, legendBase, {left: 316.7, top: 521, data: ['GraphEM', 'DA', 'CPS']}),
  Object.assign({}, legendBase, {left: 498.3, top: 521, data: ['CCA', 'AM', 'ntrend']}),
  Object.assign({}, legendBase, {left: 655, top: 521, data: ['ljung', 'esper']}),
  Object.assign({}, legendBase, {left: 1138, top: 92, data: ['Observed industrial ΔT'],
    textStyle: Object.assign({}, legendBase.textStyle, {lineHeight: 21}),
    formatter: () => 'Observed\nindustrial ΔT'}),
  Object.assign({}, legendBase, {left: 1138, top: 513, data: ['Industrial-era ΔMB'],
    textStyle: Object.assign({}, legendBase.textStyle, {lineHeight: 21}),
    formatter: () => 'Industrial-era\nΔMB'})
];

const panelLabel = (t, x, y) => ({type: 'text', left: x, top: y, silent: true, z: 100,
  style: {text: t, fontSize: FS, fontFamily: FONT, fill: '#000'}});

const chart = echarts.init(document.getElementById('c'), null, {renderer: 'canvas', width: 1325, height: 666});
chart.setOption({
  animation: false,
  backgroundColor: '#ffffff',
  textStyle: {fontFamily: FONT},
  grid: grids,
  xAxis: xAxes,
  yAxis: yAxes,
  legend: legends,
  series: series,
  graphic: [panelLabel('(a)', 101, 34), panelLabel('(b)', 1054, 34), panelLabel('(c)', 101, 359), panelLabel('(d)', 1054, 359)]
});
</script></body></html>
